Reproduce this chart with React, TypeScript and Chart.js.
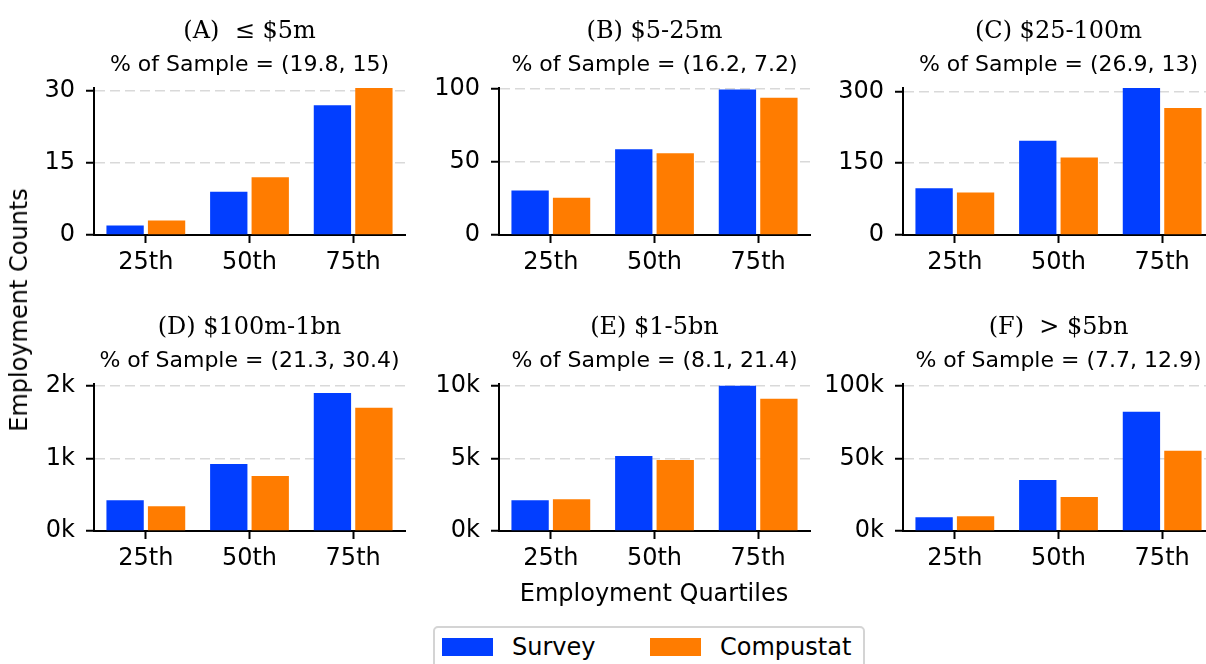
import React, { useEffect, useRef } from 'react';
import { Chart, registerables } from 'chart.js';

Chart.register(...registerables);

// ---- data ----
const quartiles = ['25th', '50th', '75th'];
const seriesNames = ['Survey', 'Compustat'];
const seriesColors = ['#023EFF', '#FF7C00'];

const panelTitles = ['(A)  ≤ $5m', '(B) $5-25m', '(C) $25-100m', '(D) $100m-1bn', '(E) $1-5bn', '(F)  > $5bn'];
const sampleShares = ['(19.8, 15)', '(16.2, 7.2)', '(26.9, 13)', '(21.3, 30.4)', '(8.1, 21.4)', '(7.7, 12.9)'];

const surveyA = [2, 9, 27];
const compustatA = [3, 12, 30.6];
const surveyB = [30.4, 58.7, 99.6];
const compustatB = [25.5, 55.9, 93.9];
const surveyC = [97.5, 197, 307];
const compustatC = [89, 161.7, 265.4];
const surveyD = [424, 922, 1899];
const compustatD = [341, 756, 1696];
const surveyE = [2120, 5160, 10000];
const compustatE = [2190, 4890, 9100];
const surveyF = [9500, 35000, 82000];
const compustatF = [10200, 23300, 55100];

const yTicksA = [0, 15, 30];
const yTicksB = [0, 50, 100];
const yTicksC = [0, 150, 300];
const yTicksD = [0, 1000, 2000];
const yTicksE = [0, 5000, 10000];
const yTicksF = [0, 50000, 100000];

const yLabelsA = ['0', '15', '30'];
const yLabelsB = ['0', '50', '100'];
const yLabelsC = ['0', '150', '300'];
const yLabelsD = ['0k', '1k', '2k'];
const yLabelsE = ['0k', '5k', '10k'];
const yLabelsF = ['0k', '50k', '100k'];

const yMax = [30.7, 101, 308, 2030, 10150, 101400];

const surveySeries = [surveyA, surveyB, surveyC, surveyD, surveyE, surveyF];
const compustatSeries = [compustatA, compustatB, compustatC, compustatD, compustatE, compustatF];
const yTickValues = [yTicksA, yTicksB, yTicksC, yTicksD, yTicksE, yTicksF];
const yTickLabels = [yLabelsA, yLabelsB, yLabelsC, yLabelsD, yLabelsE, yLabelsF];

// ---- layout ----
const SANS = "'DejaVu Sans', 'Noto Sans', sans-serif";
const SERIF = "'DejaVu Serif', 'Liberation Serif', serif";
const PLOT_LEFTS = [94, 499, 903];
const ROW_TOPS = [0, 296];
const Y_AXIS_W = 90;
const PLOT_W = 311;
const RIGHT_PAD = 10;
const CANVAS_W = Y_AXIS_W + PLOT_W + RIGHT_PAD;
const CANVAS_H = 300;

Chart.defaults.font.family = SANS;

function Panel({ idx }: { idx: number }) {
  const ref = useRef<HTMLCanvasElement>(null);
  const col = idx % 3;
  const row = Math.floor(idx / 3);
  const left = PLOT_LEFTS[col] - Y_AXIS_W;
  const top = ROW_TOPS[row];

  useEffect(() => {
    const ticks = yTickValues[idx];
    const labels = yTickLabels[idx];
    const chart = new Chart(ref.current as HTMLCanvasElement, {
      type: 'bar',
      data: {
        labels: quartiles,
        datasets: [
          {
            label: seriesNames[0],
            data: surveySeries[idx],
            backgroundColor: seriesColors[0],
            borderWidth: 0,
            categoryPercentage: 0.8,
            barPercentage: 0.9,
          },
          {
            label: seriesNames[1],
            data: compustatSeries[idx],
            backgroundColor: seriesColors[1],
            borderWidth: 0,
            categoryPercentage: 0.8,
            barPercentage: 0.9,
          },
        ],
      },
      options: {
        responsive: false,
        animation: false,
        devicePixelRatio: 1,
        layout: { padding: { left: 0, right: RIGHT_PAD, top: 0, bottom: 0 } },
        plugins: {
          legend: { display: false },
          tooltip: { enabled: false },
          title: {
            display: true,
            text: panelTitles[idx],
            fullSize: false,
            color: '#000',
            font: { family: SERIF, size: 24, weight: 'normal', lineHeight: 1.2 },
            padding: { top: 17.5, bottom: 2.5 },
          },
          subtitle: {
            display: true,
            text: `% of Sample = ${sampleShares[idx]}`,
            fullSize: false,
            color: '#000',
            font: { family: SANS, size: 22, weight: 'normal', lineHeight: 1.2 },
            padding: { top: 3, bottom: 9.3 },
          },
        },
        scales: {
          x: {
            offset: true,
            grid: {
              offset: false,
              drawOnChartArea: false,
              drawTicks: true,
              tickLength: 8,
              tickColor: '#000',
              tickWidth: 2,
            },
            border: { display: true, color: '#000', width: 2 },
            ticks: {
              color: '#000',
              font: { family: SANS, size: 24 },
              padding: 5,
              maxRotation: 0,
              autoSkip: false,
            },
            afterFit: (s: any) => {
              s.height = 65;
            },
          },
          y: {
            min: 0,
            max: yMax[idx],
            afterBuildTicks: (s: any) => {
              s.ticks = ticks.map((v) => ({ value: v }));
            },
            grid: {
              color: '#d9d9d9',
              lineWidth: 1.5,
              tickLength: 8,
              tickColor: '#000',
              tickWidth: 2,
              tickBorderDash: [],
            },
            border: { display: true, color: '#000', width: 2, dash: [10, 5] },
            ticks: {
              color: '#000',
              font: { family: SANS, size: 24 },
              padding: 11,
              callback: (_v: any, i: number) => labels[i],
            },
            afterFit: (s: any) => {
              s.width = Y_AXIS_W;
            },
          },
        },
      },
    } as any);
    return () => chart.destroy();
  }, [idx]);

  return (
    <canvas
      ref={ref}
      width={CANVAS_W}
      height={CANVAS_H}
      style={{ position: 'absolute', left, top, width: CANVAS_W, height: CANVAS_H }}
    />
  );
}

export default function App() {
  return (
    <div
      style={{
        position: 'absolute',
        left: 0,
        top: 0,
        width: 1206,
        height: 664,
        overflow: 'hidden',
        background: '#fff',
        fontFamily: SANS,
        color: '#000',
      }}
    >
      {[0, 1, 2, 3, 4, 5].map((i) => (
        <Panel key={i} idx={i} />
      ))}

      {/* shared y-axis label */}
      <div
        style={{
          position: 'absolute',
          left: 19,
          top: 310,
          transform: 'translate(-50%, -50%) rotate(-90deg)',
          fontSize: 24,
          whiteSpace: 'nowrap',
          lineHeight: 1,
        }}
      >
        Employment Counts
      </div>

      {/* x-axis label under the middle panel */}
      <div
        style={{
          position: 'absolute',
          left: 654,
          top: 593,
          transform: 'translate(-50%, -50%)',
          fontSize: 24,
          whiteSpace: 'nowrap',
          lineHeight: 1,
        }}
      >
        Employment Quartiles
      </div>

      {/* legend */}
      <div
        style={{
          position: 'absolute',
          left: 433,
          top: 626,
          width: 432,
          height: 50,
          border: '2px solid #d4d4d4',
          borderRadius: 5,
          boxSizing: 'border-box',
          background: '#fff',
        }}
      >
        {seriesNames.map((name, i) => (
          <React.Fragment key={name}>
            <div
              style={{
                position: 'absolute',
                left: (i === 0 ? 442 : 650) - 435,
                top: 10,
                width: 51,
                height: 18,
                background: seriesColors[i],
              }}
            />
            <div
              style={{
                position: 'absolute',
                left: (i === 0 ? 512 : 720) - 435,
                top: 19,
                transform: 'translateY(-50%)',
                fontSize: 24,
                lineHeight: 1,
                whiteSpace: 'nowrap',
              }}
            >
              {name}
            </div>
          </React.Fragment>
        ))}
      </div>
    </div>
  );
}
